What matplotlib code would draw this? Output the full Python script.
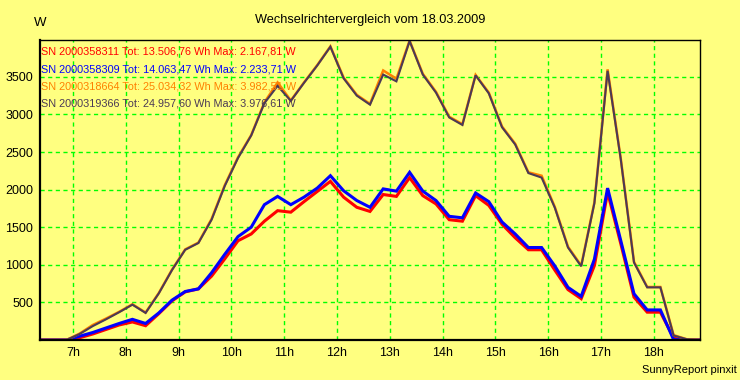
import matplotlib
matplotlib.use("Agg")
import matplotlib.pyplot as plt
import numpy as np

plt.rcParams['font.family'] = ['Liberation Sans', 'DejaVu Sans']

# 15-minute mean values, stamped at the middle of each interval (hours)
hours = np.arange(6.375, 18.876, 0.25)

# SN 2000358311 (red)
p_311 = [0, 0, 0, 30, 80, 140, 200, 240, 190, 350, 520, 640, 680, 850, 1080, 1320,
         1410, 1580, 1720, 1700, 1840, 1975, 2110, 1900, 1765, 1710, 1935, 1910, 2160,
         1920, 1810, 1600, 1580, 1920, 1790, 1540, 1360, 1200, 1200, 930, 670, 550,
         990, 1965, 1280, 570, 370, 370, 30, 0, 0]
# SN 2000358309 (blue)
p_309 = [0, 0, 0, 50, 100, 160, 220, 275, 220, 360, 530, 645, 680, 895, 1140, 1375,
         1500, 1800, 1910, 1800, 1900, 2020, 2185, 1985, 1855, 1765, 2010, 1980, 2230,
         1980, 1855, 1645, 1625, 1955, 1840, 1570, 1410, 1230, 1230, 985, 700, 580,
         1075, 2020, 1320, 615, 400, 400, 5, 0, 0]
# SN 2000318664 (orange)
p_664 = [0, 0, 0, 85, 200, 285, 375, 475, 365, 625, 935, 1205, 1295, 1610, 2060, 2430,
         2725, 3160, 3425, 3185, 3425, 3655, 3905, 3490, 3260, 3140, 3585, 3475, 3982,
         3540, 3300, 2970, 2870, 3525, 3290, 2840, 2610, 2230, 2185, 1770, 1240, 990,
         1830, 3600, 2410, 1040, 705, 705, 65, 10, 0]
# SN 2000319366 (dark)
p_366 = [0, 0, 0, 80, 185, 275, 370, 470, 360, 620, 930, 1200, 1290, 1600, 2050, 2420,
         2720, 3150, 3380, 3180, 3420, 3650, 3900, 3480, 3250, 3130, 3530, 3440, 3976,
         3530, 3290, 2960, 2860, 3520, 3280, 2830, 2600, 2220, 2160, 1760, 1230, 980,
         1820, 3580, 2400, 1030, 700, 700, 60, 10, 0]

labels = [
    'SN 2000358311 Tot: 13.506,76 Wh Max: 2.167,81 W',
    'SN 2000358309 Tot: 14.063,47 Wh Max: 2.233,71 W',
    'SN 2000318664 Tot: 25.034,32 Wh Max: 3.982,51 W',
    'SN 2000319366 Tot: 24.957,60 Wh Max: 3.976,61 W',
]
colors = ['#FF0000', '#0000FF', '#FF8000', '#4B3A55']
widths = [2.2, 2.2, 1.8, 1.5]

hour_ticks = list(range(7, 19))
watt_ticks = [500, 1000, 1500, 2000, 2500, 3000, 3500]

bg = '#FFFF80'
fig = plt.figure(figsize=(7.4, 3.8), dpi=100, facecolor=bg)
ax = fig.add_axes([40 / 740, 1 - 340 / 380, 660 / 740, 300 / 380])
ax.set_facecolor(bg)

for series, col, lw in zip([p_311, p_309, p_664, p_366], colors, widths):
    ax.plot(hours, series, color=col, lw=lw, solid_joinstyle='miter')

ax.set_xlim(6.375, 18.875)
ax.set_ylim(0, 3990)
ax.set_xticks(hour_ticks)
ax.set_xticklabels([f'{h}h' for h in hour_ticks])
ax.set_yticks(watt_ticks)
ax.tick_params(length=0, labelsize=9, pad=5)
ax.grid(True, color='#00FF00', linestyle=(0, (3, 2.5)), lw=1)
ax.set_axisbelow(True)
for s in ax.spines.values():
    s.set_color('black')
    s.set_linewidth(1)
ax.spines['bottom'].set_linewidth(1.6)
ax.spines['left'].set_linewidth(1.6)

# legend lines as coloured text in the upper left corner
for i, (txt, col) in enumerate(zip(labels, colors)):
    ax.text(0.002, 0.977 - i * 0.057, txt, color=col, fontsize=7.8,
            transform=ax.transAxes, ha='left', va='top')

fig.text(370 / 740, 1 - 20 / 380, 'Wechselrichtervergleich vom 18.03.2009',
         ha='center', va='center', fontsize=9.2)
fig.text(40 / 740, 1 - 23 / 380, 'W', ha='center', va='center', fontsize=9.5)
fig.text(737 / 740, 1 - 370 / 380, 'SunnyReport pinxit', ha='right', va='center',
         fontsize=8)

plt.savefig('out.png', dpi=100, facecolor=bg)
